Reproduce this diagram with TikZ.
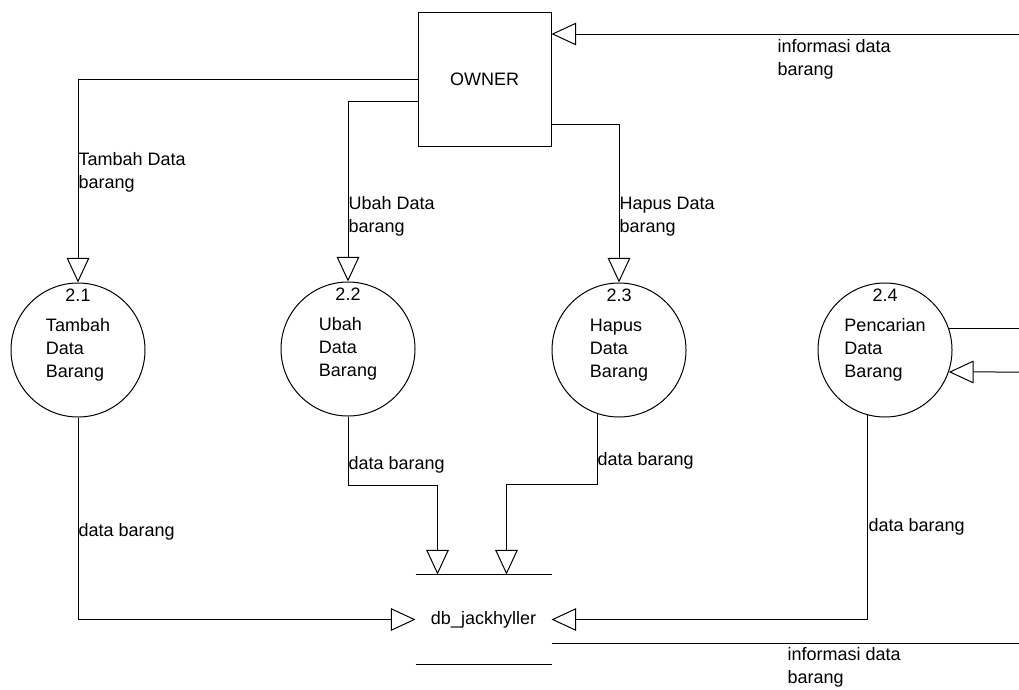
\documentclass[tikz,border=0pt]{standalone}
\usepackage{fontspec}
\setmainfont{Liberation Sans}
\usepackage{tikz}
\usetikzlibrary{arrows.meta,calc,positioning}
\tikzset{
  proc/.style={draw,circle,minimum size=100.5pt,inner sep=0pt,align=left},
  ent/.style={draw,rectangle,minimum width=99.75pt,minimum height=100.5pt},
  store/.style={minimum width=101.25pt,minimum height=66.75pt,inner sep=0pt},
  lbl/.style={anchor=west,align=left,inner sep=0pt},
  flow/.style={-{Triangle[open,length=18.5pt,width=17pt]}},
}

\begin{document}
\begin{tikzpicture}[x=0.75pt,y=-0.75pt,line width=0.75pt,font=\fontsize{13.5}{17.25}\selectfont]
\useasboundingbox (0,0) rectangle (1019,689);
\node[ent] (owner) at (484.5,79) {OWNER};
\node[proc] (p21) at (78,350) {Tambah\\Data\\Barang};
\node[proc] (p22) at (348,349) {Ubah\\Data\\Barang};
\node[proc] (p23) at (619,350) {Hapus\\Data\\Barang};
\node[proc] (p24) at (885,350) {Pencarian\\Data\\Barang};
\node (n21) at ($(p21.north)+(0,13)$) {2.1};
\node (n22) at ($(p22.north)+(0,13)$) {2.2};
\node (n23) at ($(p23.north)+(0,13)$) {2.3};
\node (n24) at ($(p24.north)+(0,13)$) {2.4};
\node[store] (db) at (483.5,619.5) {db\_jackhyller};
\draw (db.north west) -- (db.north east);
\draw (db.south west) -- (db.south east);
\coordinate (r1) at (1019,34);
\coordinate (r2) at (1019,328);
\coordinate (r3) at (1019,372);
\coordinate (r4) at (1019,643);
\draw[flow] (r1) -- (owner.east |- r1);
\draw[flow] (owner.west) -| (p21.north);
\draw[flow] ($(owner.west)+(0,22)$) -| (p22.north);
\draw[flow] ($(owner.east)+(0,45)$) -| (p23.north);
\draw (p24.19) -- (p24.19 -| r2);
\draw[flow] (r3) -- (p24.341);
\draw[flow] (p21.south) |- (db.west);
\draw[flow] (p22.south) -- ++(0,69) -| ($(db.north west)+(22,0)$);
\draw[flow] (p23.251) -- ++(0,71) -| ($(db.north west)+(91,0)$);
\draw[flow] (p24.255) |- (db.east);
\draw (db.east |- r4) -- (r4);
\node[lbl] (l1) at (78,172) {Tambah Data\\barang};
\node[lbl] (l2) at (348,216.5) {Ubah Data\\barang};
\node[lbl] (l3) at (619,216.5) {Hapus Data\\barang};
\node[lbl] (l4) at (777,59) {informasi data\\barang};
\node[lbl] (l5) at (787,667) {informasi data\\barang};
\node[lbl] (l6) at (78,532) {data barang};
\node[lbl] (l7) at (348,465) {data barang};
\node[lbl] (l8) at (597,461) {data barang};
\node[lbl] (l9) at (868,527) {data barang};
\end{tikzpicture}
\end{document}
